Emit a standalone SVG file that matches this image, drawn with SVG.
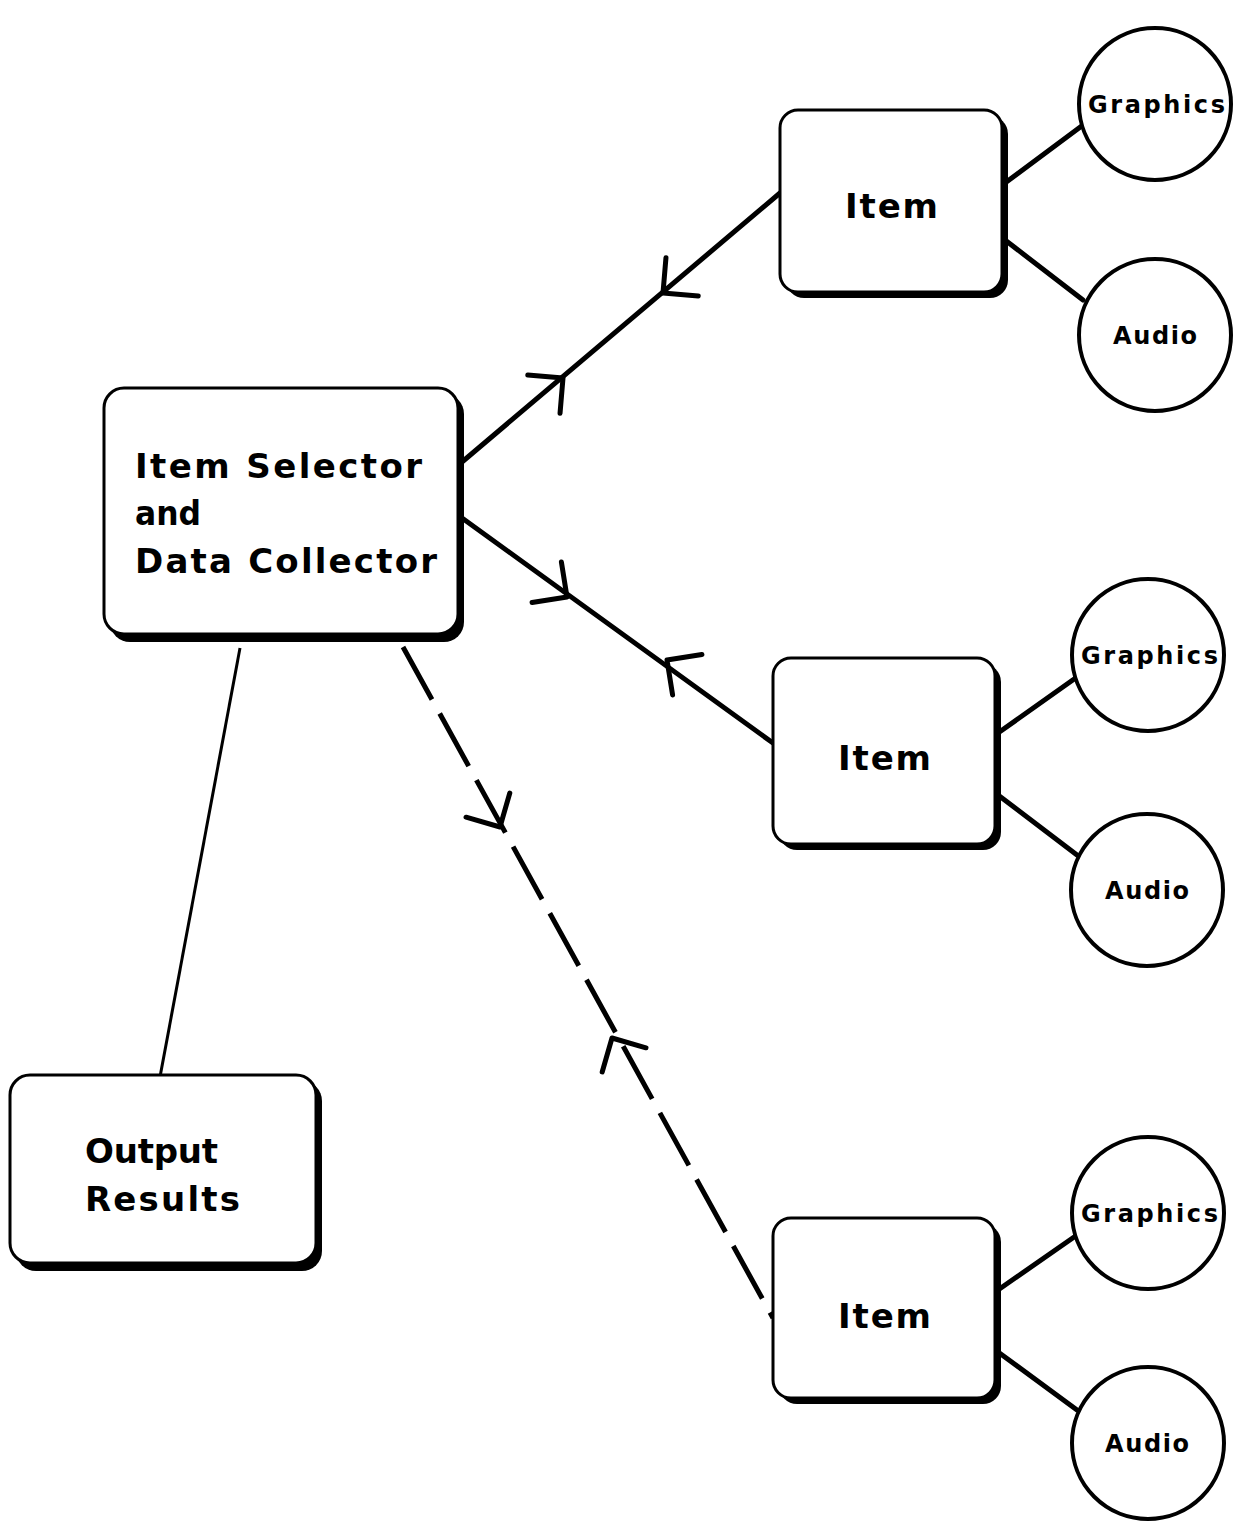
<svg xmlns="http://www.w3.org/2000/svg" xmlns:xlink="http://www.w3.org/1999/xlink" width="1235" height="1528" viewBox="0 0 1235 1528">
<style>
.shadow{fill:#000}
.box{fill:#fff;stroke:#000;stroke-width:3}
.circ{fill:#fff;stroke:#000;stroke-width:4}
.t{font-family:"DejaVu Sans","Liberation Sans",sans-serif;font-weight:bold;fill:#000}
.big{font-size:34px}
.small{font-size:24px}
.line{stroke:#000;stroke-width:5;fill:none;stroke-linecap:round}
.thin{stroke:#000;stroke-width:3;fill:none}
.dash{stroke:#000;stroke-width:5;fill:none;stroke-dasharray:60 16}
.chev{stroke:#000;stroke-width:5;fill:none;stroke-linecap:round;stroke-linejoin:round}
</style>
<defs>
<path id="chev" class="chev" d="M -25 -25 L 0 0 L -25 25"/>
</defs>
<rect width="1235" height="1528" fill="#fff"/>
<g id="connectors">
<line class="line" x1="462" y1="462" x2="780" y2="193"/>
<use xlink:href="#chev" transform="translate(563,378) rotate(-40.2)"/>
<use xlink:href="#chev" transform="translate(663,293) rotate(139.8)"/>
<line class="line" x1="462" y1="518" x2="773" y2="743"/>
<use xlink:href="#chev" transform="translate(567,597) rotate(35.9)"/>
<use xlink:href="#chev" transform="translate(667,660) rotate(215.9)"/>
<line class="dash" x1="403" y1="647" x2="773" y2="1318"/>
<use xlink:href="#chev" transform="translate(500,827) rotate(61.1)"/>
<use xlink:href="#chev" transform="translate(612,1038) rotate(241.1)"/>
<line class="thin" x1="240" y1="648" x2="160" y2="1077"/>
<line class="line" x1="1005" y1="183" x2="1083" y2="125"/>
<line class="line" x1="1005" y1="240" x2="1083" y2="300"/>
<line class="line" x1="998" y1="733" x2="1077" y2="677"/>
<line class="line" x1="998" y1="795" x2="1077" y2="855"/>
<line class="line" x1="998" y1="1290" x2="1077" y2="1235"/>
<line class="line" x1="998" y1="1352" x2="1077" y2="1410"/>
</g>
<g id="selector">
<rect class="shadow" x="110" y="394" width="354" height="248" rx="20"/>
<rect class="box" x="104" y="388" width="354" height="246" rx="20"/>
<text class="t big" x="135" y="478" textLength="287" lengthAdjust="spacing">Item Selector</text>
<text class="t big" x="135" y="525" textLength="66" lengthAdjust="spacingAndGlyphs">and</text>
<text class="t big" x="135" y="573" textLength="302" lengthAdjust="spacing">Data Collector</text>
</g>
<g id="output">
<rect class="shadow" x="16" y="1081" width="306" height="190" rx="20"/>
<rect class="box" x="10" y="1075" width="306" height="188" rx="20"/>
<text class="t big" x="85" y="1163" textLength="133" lengthAdjust="spacing">Output</text>
<text class="t big" x="85" y="1211" textLength="155" lengthAdjust="spacing">Results</text>
</g>
<g id="item1">
<rect class="shadow" x="786" y="116" width="222" height="182" rx="18"/>
<rect class="box" x="780" y="110" width="222" height="182" rx="18"/>
<text class="t big" x="845" y="218" textLength="93" lengthAdjust="spacing">Item</text>
</g>
<g id="item2">
<rect class="shadow" x="779" y="664" width="222" height="186" rx="18"/>
<rect class="box" x="773" y="658" width="222" height="186" rx="18"/>
<text class="t big" x="838" y="770" textLength="93" lengthAdjust="spacing">Item</text>
</g>
<g id="item3">
<rect class="shadow" x="779" y="1224" width="222" height="180" rx="18"/>
<rect class="box" x="773" y="1218" width="222" height="180" rx="18"/>
<text class="t big" x="838" y="1328" textLength="93" lengthAdjust="spacing">Item</text>
</g>
<g id="graphics1">
<circle class="circ" cx="1155" cy="104" r="76"/>
<text class="t small" x="1088" y="113" textLength="137" lengthAdjust="spacing">Graphics</text>
</g>
<g id="audio1">
<circle class="circ" cx="1155" cy="335" r="76"/>
<text class="t small" x="1113" y="344" textLength="84" lengthAdjust="spacing">Audio</text>
</g>
<g id="graphics2">
<circle class="circ" cx="1148" cy="655" r="76"/>
<text class="t small" x="1081" y="664" textLength="137" lengthAdjust="spacing">Graphics</text>
</g>
<g id="audio2">
<circle class="circ" cx="1147" cy="890" r="76"/>
<text class="t small" x="1105" y="899" textLength="84" lengthAdjust="spacing">Audio</text>
</g>
<g id="graphics3">
<circle class="circ" cx="1148" cy="1213" r="76"/>
<text class="t small" x="1081" y="1222" textLength="137" lengthAdjust="spacing">Graphics</text>
</g>
<g id="audio3">
<circle class="circ" cx="1148" cy="1443" r="76"/>
<text class="t small" x="1105" y="1452" textLength="84" lengthAdjust="spacing">Audio</text>
</g>
</svg>
